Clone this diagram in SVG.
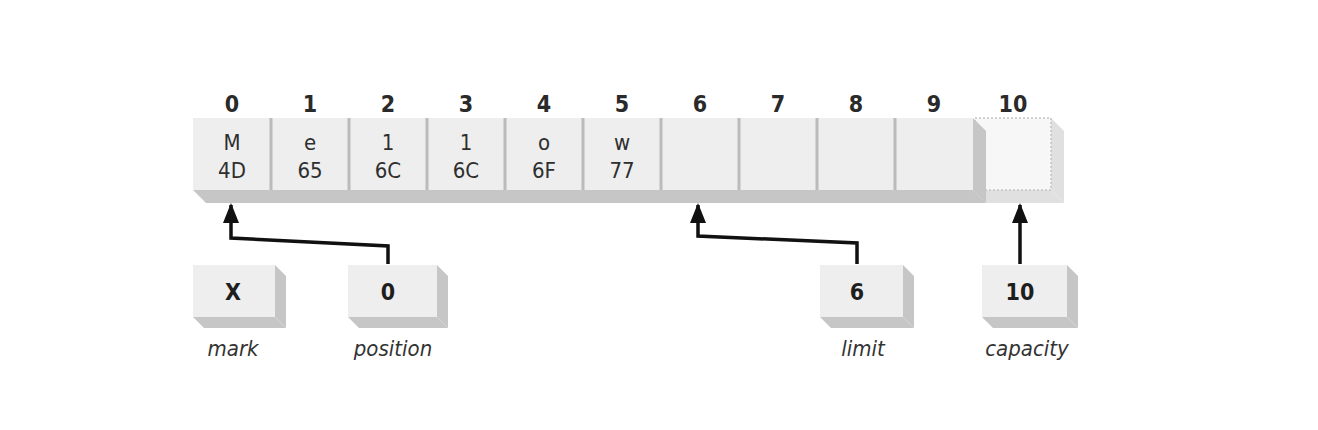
<svg xmlns="http://www.w3.org/2000/svg" width="1318" height="430" viewBox="0 0 1318 430">
<defs>
<style>
.face{fill:#eeeeee;}
.side{fill:#c6c6c6;}
.div{stroke:#bbbbbb;stroke-width:3;}
.ghost{fill:#f7f7f7;stroke:#c4c4c4;stroke-width:1.5;stroke-dasharray:2 2;}
.gside{fill:#e0e0e0;}
.idx{font-family:"Liberation Sans Narrow","DejaVu Sans Condensed","Liberation Sans",sans-serif;font-size:23px;font-weight:bold;fill:#2a2a2a;text-anchor:middle;}
.val{font-family:"Liberation Sans Narrow","DejaVu Sans Condensed","Liberation Sans",sans-serif;font-size:22px;fill:#2e2e2e;text-anchor:middle;}
.num{font-family:"Liberation Sans Narrow","DejaVu Sans Condensed","Liberation Sans",sans-serif;font-size:23px;font-weight:bold;fill:#1e1e1e;text-anchor:middle;}
.lbl{font-family:"Liberation Sans Narrow","DejaVu Sans Condensed","Liberation Sans",sans-serif;font-size:22px;font-style:italic;fill:#333;text-anchor:middle;}
.conn{fill:none;stroke:#111;stroke-width:3.5;}
</style>
<marker id="ah" viewBox="0 0 20 16" refX="18" refY="8" markerWidth="20" markerHeight="16" markerUnits="userSpaceOnUse" orient="auto">
<path d="M0,0 L20,8 L0,16 z" fill="#111"/>
</marker>
</defs>
<rect width="1318" height="430" fill="#fff"/>

<g id="buffer">
<polygon class="gside" points="1051,118 1064,131 1064,203 1051,190"/>
<polygon class="gside" points="973,190 1051,190 1064,203 986,203"/>
<rect class="ghost" x="975" y="118" width="76" height="72"/>
<polygon class="side" points="193,190 973,190 986,203 206,203"/>
<polygon class="side" points="973,118 986,131 986,203 973,190"/>
<rect class="face" x="193" y="118" width="780" height="72"/>
<g>
<line class="div" x1="271" y1="118" x2="271" y2="190"/>
<line class="div" x1="349" y1="118" x2="349" y2="190"/>
<line class="div" x1="427" y1="118" x2="427" y2="190"/>
<line class="div" x1="505" y1="118" x2="505" y2="190"/>
<line class="div" x1="583" y1="118" x2="583" y2="190"/>
<line class="div" x1="661" y1="118" x2="661" y2="190"/>
<line class="div" x1="739" y1="118" x2="739" y2="190"/>
<line class="div" x1="817" y1="118" x2="817" y2="190"/>
<line class="div" x1="895" y1="118" x2="895" y2="190"/>
</g>
<g>
<text class="idx" x="232" y="112">0</text>
<text class="idx" x="310" y="112">1</text>
<text class="idx" x="388" y="112">2</text>
<text class="idx" x="466" y="112">3</text>
<text class="idx" x="544" y="112">4</text>
<text class="idx" x="622" y="112">5</text>
<text class="idx" x="700" y="112">6</text>
<text class="idx" x="778" y="112">7</text>
<text class="idx" x="856" y="112">8</text>
<text class="idx" x="934" y="112">9</text>
<text class="idx" x="1013" y="112">10</text>
</g>
<g>
<text class="val" x="232" y="150">M</text><text class="val" x="232" y="178">4D</text>
<text class="val" x="310" y="150">e</text><text class="val" x="310" y="178">65</text>
<text class="val" x="388" y="150">1</text><text class="val" x="388" y="178">6C</text>
<text class="val" x="466" y="150">1</text><text class="val" x="466" y="178">6C</text>
<text class="val" x="544" y="150">o</text><text class="val" x="544" y="178">6F</text>
<text class="val" x="622" y="150">w</text><text class="val" x="622" y="178">77</text>
</g>
</g>

<g id="mark">
<polygon class="side" points="275,265 286,276 286,328 275,317"/>
<polygon class="side" points="193,317 275,317 286,328 204,328"/>
<rect class="face" x="193" y="265" width="82" height="52"/>
<text class="num" x="233" y="300">X</text>
<text class="lbl" x="233" y="356">mark</text>
</g>

<g id="position">
<polygon class="side" points="437,265 448,276 448,328 437,317"/>
<polygon class="side" points="348,317 437,317 448,328 359,328"/>
<rect class="face" x="348" y="265" width="89" height="52"/>
<text class="num" x="388" y="300">0</text>
<text class="lbl" x="393" y="356">position</text>
</g>

<g id="limit">
<polygon class="side" points="903,265 914,276 914,328 903,317"/>
<polygon class="side" points="820,317 903,317 914,328 831,328"/>
<rect class="face" x="820" y="265" width="83" height="52"/>
<text class="num" x="857" y="300">6</text>
<text class="lbl" x="863" y="356">limit</text>
</g>

<g id="capacity">
<polygon class="side" points="1067,265 1078,276 1078,328 1067,317"/>
<polygon class="side" points="982,317 1067,317 1078,328 993,328"/>
<rect class="face" x="982" y="265" width="85" height="52"/>
<text class="num" x="1020" y="300">10</text>
<text class="lbl" x="1027" y="356">capacity</text>
</g>

<g id="connectors">
<polyline class="conn" points="388,264 388,246 231,238 231,205" marker-end="url(#ah)"/>
<polyline class="conn" points="857,264 857,243 698,236 698,205" marker-end="url(#ah)"/>
<polyline class="conn" points="1020,264 1020,205" marker-end="url(#ah)"/>
</g>
</svg>
